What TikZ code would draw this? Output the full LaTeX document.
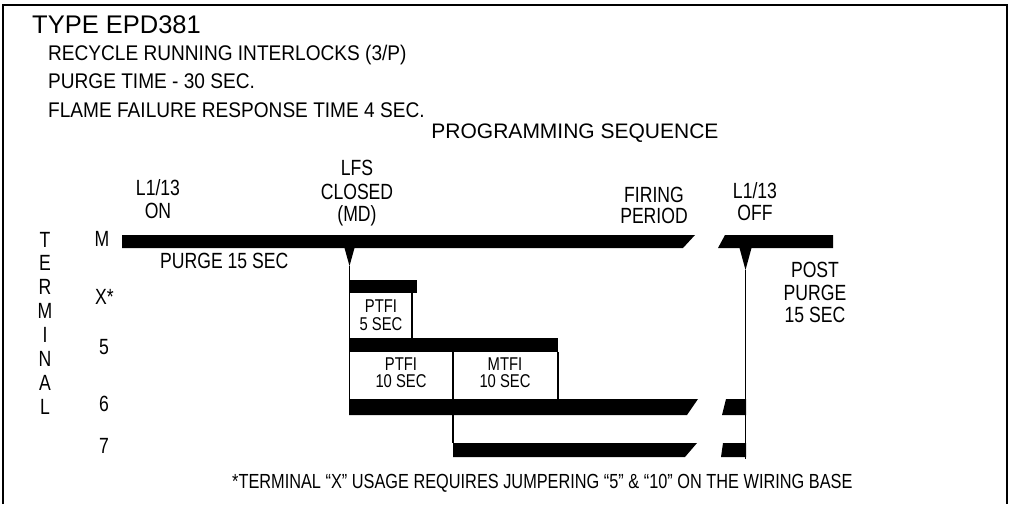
\documentclass[tikz,border=0pt]{standalone}
\usepackage{fontspec}
\setmainfont{Liberation Sans}
\newfontfamily\narrowfont{Liberation Sans}[FakeStretch=0.8]
\newfontfamily\headfont{Liberation Sans}[FakeStretch=0.9]

\tikzset{
  bar/.style={fill=black},
  wire/.style={line width=1.2pt},
  frame/.style={line width=1.5pt},
  lbl/.style={inner sep=0pt, anchor=base, font=\narrowfont\fontsize{22}{24}\selectfont},
  tag/.style={lbl, font=\narrowfont\fontsize{18.5}{20}\selectfont},
  head/.style={inner sep=0pt, anchor=base west, font=\headfont\fontsize{21.2}{22}\selectfont}
}

\begin{document}
\begin{tikzpicture}[x=1pt, y=-1pt]
        \useasboundingbox (0,0) rectangle (1012,504);
        \draw[frame] (3,504) -- (3,5) -- (1007,5) -- (1007,504);

        \node[head, font=\fontsize{25.5}{30}\selectfont] (type) at (32,33) {TYPE EPD381};
        \node[head] (recycle) at (48,60)   {RECYCLE RUNNING INTERLOCKS (3/P)};
        \node[head] (purge)   at (48,88.5) {PURGE TIME - 30 SEC.};
        \node[head] (flame)   at (48,117)  {FLAME FAILURE RESPONSE TIME 4 SEC.};
        \node[head, anchor=base, font=\fontsize{21}{24}\selectfont] (prog) at (575,138) {PROGRAMMING SEQUENCE};

        \node[lbl] (on1)   at (158,195) {L1/13};
        \node[lbl] (on2)   at (158,218) {ON};
        \node[lbl] (lfs1)  at (357,175) {LFS};
        \node[lbl] (lfs2)  at (357,199) {CLOSED};
        \node[lbl] (lfs3)  at (357,221) {(MD)};
        \node[lbl] (fire1) at (654,202) {FIRING};
        \node[lbl] (fire2) at (654,223) {PERIOD};
        \node[lbl] (off1)  at (755,198) {L1/13};
        \node[lbl] (off2)  at (755,220) {OFF};
        \node[lbl] (post1) at (815,277) {POST};
        \node[lbl] (post2) at (815,300) {PURGE};
        \node[lbl] (post3) at (815,322) {15 SEC};
        \node[lbl, anchor=base west] (pur) at (160,268) {PURGE 15 SEC};

        \foreach \ch [count=\i] in {T,E,R,M,I,N,A,L}
            \node[lbl] (term\i) at (45,{247+23.9*(\i-1)}) {\ch};
        \node[lbl] (tM) at (102,246) {M};
        \node[lbl, anchor=base west] (tX) at (95,304) {X*};
        \node[lbl] (t5) at (104,354) {5};
        \node[lbl] (t6) at (104,411) {6};
        \node[lbl] (t7) at (104,453) {7};

        \fill[bar] (122,235) -- (695,235) -- (683,248) -- (122,248) -- cycle;
        \fill[bar] (725,235) -- (833,235) -- (833,248) -- (718,248) -- cycle;
        \fill[bar] (349,280) rectangle (417,293);
        \fill[bar] (349,338) rectangle (558,352);
        \fill[bar] (349,399) -- (698,399) -- (687,415) -- (349,415) -- cycle;
        \fill[bar] (726,399) -- (746,399) -- (746,415) -- (722,415) -- cycle;
        \fill[bar] (453,443) -- (697,443) -- (685,457) -- (453,457) -- cycle;
        \fill[bar] (723,443) -- (746,443) -- (746,457) -- (721,457) -- cycle;

        \coordinate (lfsTip) at (349.5,266);
        \coordinate (offTip) at (745.5,270);
        \fill[bar] (344.5,248) -- (354.5,248) -- (lfsTip) -- cycle;
        \fill[bar] (739.5,248) -- (751.5,248) -- (offTip) -- cycle;

        \coordinate (xEnd)  at (412,293);
        \coordinate (fEnd)  at (453,352);
        \coordinate (mEnd)  at (558,352);
        \draw[wire] (lfsTip) -- (lfsTip |- 0,415);
        \draw[wire] (offTip) -- (offTip |- 0,459);
        \draw[wire] (xEnd) -- (xEnd |- 0,338);
        \draw[wire] (fEnd) -- (fEnd |- 0,443);
        \draw[wire] (mEnd) -- (mEnd |- 0,399);

        \node[tag] (ptfiA1) at (381,312) {PTFI};
        \node[tag] (ptfiA2) at (381,330) {5 SEC};
        \node[tag] (ptfiB1) at (401,370) {PTFI};
        \node[tag] (ptfiB2) at (401,387) {10 SEC};
        \node[tag] (mtfi1)  at (505,370) {MTFI};
        \node[tag] (mtfi2)  at (505,387) {10 SEC};

        \node[lbl, anchor=base west, font=\narrowfont\fontsize{20.4}{22}\selectfont] (note) at (232,488)
            {*TERMINAL “X” USAGE REQUIRES JUMPERING “5” \& “10” ON THE WIRING BASE};
\end{tikzpicture}
\end{document}
